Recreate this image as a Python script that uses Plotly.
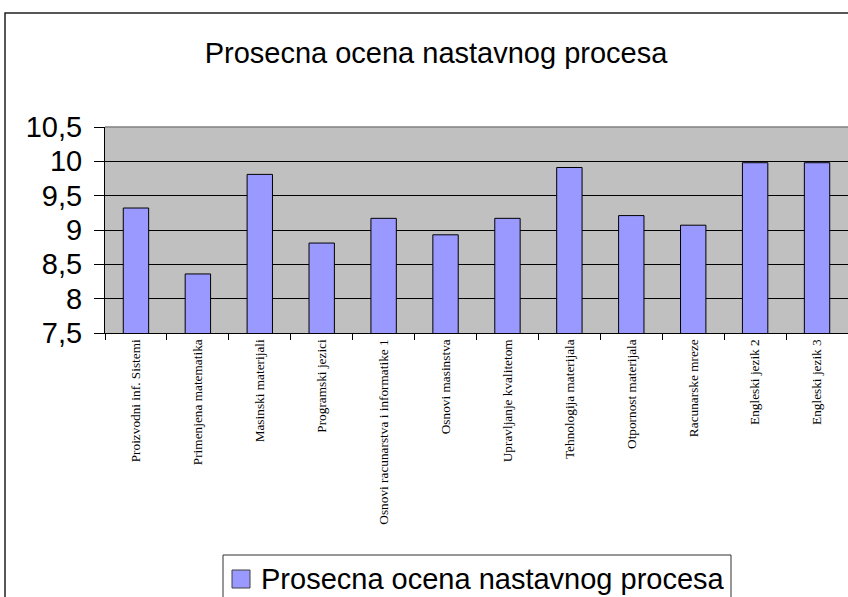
import plotly.graph_objects as go

categories = [
    "Proizvodni inf. Sistemi",
    "Primenjena matematika",
    "Masinski materijali",
    "Programski jezici",
    "Osnovi racunarstva i informatike 1",
    "Osnovi masinstva",
    "Upravljanje kvalitetom",
    "Tehnologija materijala",
    "Otpornost materijala",
    "Racunarske mreze",
    "Engleski jezik 2",
    "Engleski jezik 3",
]
values = [9.32, 8.36, 9.81, 8.81, 9.17, 8.93, 9.17, 9.91, 9.21, 9.07, 9.98, 9.98]
y_ticks = [7.5, 8, 8.5, 9, 9.5, 10, 10.5]
y_tick_labels = ["7,5", "8", "8,5", "9", "9,5", "10", "10,5"]
series_name = "Prosecna ocena nastavnog procesa"
title_text = "Prosecna ocena nastavnog procesa"

BAR_COLOR = "#9999FF"

W, H = 848, 597
L, R, T, B = 105, 0, 127, 264
pw = W - L - R
ph = H - T - B


def px_x(px):
    return (px - L) / pw


def px_y(py):
    return ((T + ph) - py) / ph


fig = go.Figure()
fig.add_trace(go.Bar(
    x=categories,
    y=values,
    name=series_name,
    marker=dict(color=BAR_COLOR, line=dict(color="black", width=1)),
    showlegend=False,
))

fig.update_layout(
    width=W, height=H,
    margin=dict(l=L, r=R, t=T, b=B, pad=0),
    paper_bgcolor="white",
    plot_bgcolor="#C0C0C0",
    bargap=0.59,
    font=dict(family="Liberation Sans, Arial", color="black"),
    title=dict(
        text=title_text,
        x=436 / W, xref="container", xanchor="center",
        y=1 - 53 / H, yref="container", yanchor="middle",
        font=dict(size=29, family="Liberation Sans, Arial", color="black"),
    ),
    showlegend=False,
    xaxis=dict(
        type="category",
        tickangle=-90,
        tickson="boundaries",
        ticks="outside", ticklen=6, tickcolor="black", tickwidth=1,
        showline=True, linecolor="black", linewidth=1,
        showgrid=False,
        tickfont=dict(size=13.3, family="Liberation Serif, Times New Roman", color="black"),
    ),
    yaxis=dict(
        range=[7.5, 10.5],
        tickvals=y_ticks,
        ticktext=y_tick_labels,
        ticks="outside", ticklen=10, tickcolor="black", tickwidth=1,
        ticklabelstandoff=6,
        showline=True, linecolor="black", linewidth=1,
        showgrid=True, gridcolor="black", gridwidth=1,
        zeroline=False,
        tickfont=dict(size=29, family="Liberation Sans, Arial", color="black"),
    ),
)

# top edge of plot area (grey)
fig.add_shape(
    type="line", xref="paper", yref="paper",
    x0=0, x1=1, y0=1, y1=1,
    line=dict(color="#808080", width=1.5),
)

# outer chart border (extends beyond the visible page on right and bottom)
fig.add_shape(
    type="rect", xref="paper", yref="paper",
    x0=px_x(5), x1=px_x(W + 20),
    y0=px_y(H + 20), y1=px_y(13),
    line=dict(color="#202020", width=1.5), fillcolor="rgba(0,0,0,0)",
    layer="below",
)

# legend box
fig.add_shape(
    type="rect", xref="paper", yref="paper",
    x0=px_x(223), x1=px_x(731),
    y0=px_y(H + 20), y1=px_y(555),
    line=dict(color="#303030", width=1), fillcolor="white",
)
# legend swatch
fig.add_shape(
    type="rect", xref="paper", yref="paper",
    x0=px_x(232), x1=px_x(250),
    y0=px_y(588), y1=px_y(570),
    line=dict(color="#404040", width=1), fillcolor=BAR_COLOR,
)
fig.add_annotation(
    text=series_name, xref="paper", yref="paper",
    x=px_x(259), y=px_y(579), xanchor="left", yanchor="middle",
    showarrow=False,
    font=dict(size=29, family="Liberation Sans, Arial", color="black"),
)

fig.write_html(
    "out.html",
    config={"displayModeBar": False},
    post_script="document.body.style.margin='0';document.body.style.overflow='hidden';",
)
